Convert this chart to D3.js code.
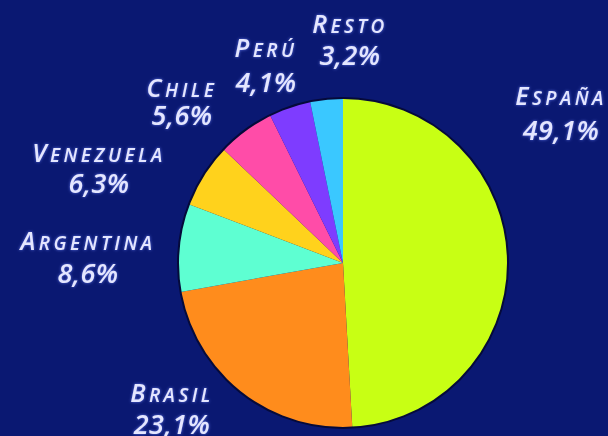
<!DOCTYPE html>
<html>
<head>
<meta charset="utf-8">
<script src="https://cdn.jsdelivr.net/npm/d3@7"></script>
<style>
  html, body { margin: 0; padding: 0; background: #0a1872; }
  svg { display: block; }
  .lbl { font-family: "Open Sans", sans-serif; font-style: italic; font-weight: 600; fill: #e4e6ff; }
</style>
</head>
<body>
<div id="chart"></div>
<script>
// Data
const countries = ["España", "Brasil", "Argentina", "Venezuela", "Chile", "Perú", "Resto"];
const shares = [49.1, 23.1, 8.6, 6.3, 5.6, 4.1, 3.2];
const sliceColors = ["#c8ff14", "#ff8c1c", "#5effd2", "#ffd21c", "#ff4ca8", "#7e3cff", "#3ac8ff"];

// Label anchors (text centre, baseline of first line)
const labelPos = [[561, 105], [172, 402], [88, 250], [99, 162], [182, 97], [266, 57], [350, 33]];
const numOffset = [35, 32, 33, 31, 28, 35, 32];

const W = 608, H = 436;
const cx = 343, cy = 263, R = 165;

const svg = d3.select("#chart").append("svg")
    .attr("width", W)
    .attr("height", H);

svg.append("rect")
    .attr("width", W)
    .attr("height", H)
    .attr("fill", "#0a1872");

// soft glow for the labels
const defs = svg.append("defs");
const glow = defs.append("filter").attr("id", "glow")
    .attr("x", "-20%").attr("y", "-40%").attr("width", "140%").attr("height", "180%");
glow.append("feGaussianBlur").attr("in", "SourceAlpha").attr("stdDeviation", 1.6).attr("result", "b");
glow.append("feFlood").attr("flood-color", "#6f86ff").attr("flood-opacity", 0.8);
glow.append("feComposite").attr("in2", "b").attr("operator", "in").attr("result", "g");
const merge = glow.append("feMerge");
merge.append("feMergeNode").attr("in", "g");
merge.append("feMergeNode").attr("in", "SourceGraphic");

const pie = d3.pie().sort(null).value(d => d)(shares);
const arc = d3.arc().innerRadius(0).outerRadius(R);

const g = svg.append("g").attr("transform", `translate(${cx},${cy})`);

g.selectAll("path.slice")
    .data(pie)
    .join("path")
    .attr("class", "slice")
    .attr("d", arc)
    .attr("fill", (d, i) => sliceColors[i]);

// dark rim
g.append("circle")
    .attr("r", R)
    .attr("fill", "none")
    .attr("stroke", "#050a3a")
    .attr("stroke-width", 2);

const fmt = v => v.toFixed(1).replace(".", ",") + "%";

const labels = svg.selectAll("g.label")
    .data(countries)
    .join("g")
    .attr("class", "label")
    .attr("filter", "url(#glow)");

// small caps built by hand: big first letter, smaller capitals after
const name = labels.append("text")
    .attr("class", "lbl")
    .attr("x", (d, i) => labelPos[i][0])
    .attr("y", (d, i) => labelPos[i][1])
    .attr("text-anchor", "middle")
    .style("letter-spacing", "3.5px");

name.append("tspan")
    .style("font-size", "25px")
    .text(d => d[0].toUpperCase());

name.append("tspan")
    .style("font-size", "19px")
    .text(d => d.slice(1).toUpperCase());

labels.append("text")
    .attr("class", "lbl")
    .attr("x", (d, i) => labelPos[i][0])
    .attr("y", (d, i) => labelPos[i][1] + numOffset[i])
    .attr("text-anchor", "middle")
    .style("font-size", "27px")
    .style("letter-spacing", "0.5px")
    .text((d, i) => fmt(shares[i]));
</script>
</body>
</html>
